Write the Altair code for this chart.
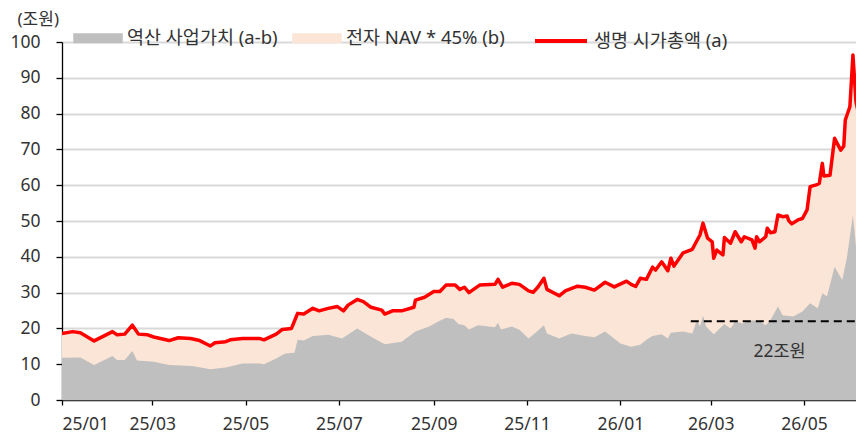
import altair as alt
import pandas as pd

FONT = "Noto Sans, Noto Sans CJK KR"
NUM_FONT = "Noto Sans"
FS = 17.5

NAME_GREY = "역산 사업가치 (a-b)"
NAME_PEACH = "전자 NAV * 45% (b)"
NAME_RED = "생명 시가총액 (a)"

# 생명 시가총액 (a), 조원
red_dates = [
    "2025-01-01", "2025-01-08", "2025-01-13", "2025-01-22", "2025-02-03", "2025-02-06",
    "2025-02-11", "2025-02-16", "2025-02-20", "2025-02-26", "2025-03-02", "2025-03-12",
    "2025-03-18", "2025-03-26", "2025-04-01", "2025-04-08", "2025-04-11", "2025-04-18",
    "2025-04-21", "2025-04-29", "2025-05-10", "2025-05-13", "2025-05-21", "2025-05-25",
    "2025-05-31", "2025-06-04", "2025-06-08", "2025-06-14", "2025-06-18", "2025-06-24",
    "2025-06-30", "2025-07-04", "2025-07-07", "2025-07-13", "2025-07-17", "2025-07-22",
    "2025-07-29", "2025-07-31", "2025-08-05", "2025-08-11", "2025-08-19", "2025-08-20",
    "2025-08-26", "2025-09-01", "2025-09-05", "2025-09-09", "2025-09-15", "2025-09-18",
    "2025-09-21", "2025-09-24", "2025-10-01", "2025-10-11", "2025-10-13", "2025-10-16",
    "2025-10-22", "2025-10-27", "2025-11-02", "2025-11-05", "2025-11-08", "2025-11-12",
    "2025-11-14", "2025-11-22", "2025-11-26", "2025-12-04", "2025-12-09", "2025-12-15",
    "2025-12-22", "2025-12-28", "2026-01-05", "2026-01-08", "2026-01-11", "2026-01-14",
    "2026-01-18", "2026-01-22", "2026-01-24", "2026-01-28", "2026-02-01", "2026-02-03",
    "2026-02-05", "2026-02-11", "2026-02-17", "2026-02-22", "2026-02-24", "2026-02-27",
    "2026-03-02", "2026-03-03", "2026-03-05", "2026-03-09", "2026-03-10", "2026-03-14",
    "2026-03-17", "2026-03-21", "2026-03-23", "2026-03-28", "2026-03-30", "2026-03-31",
    "2026-04-02", "2026-04-06", "2026-04-07", "2026-04-09", "2026-04-12", "2026-04-14",
    "2026-04-17", "2026-04-20", "2026-04-21", "2026-04-23", "2026-04-27", "2026-04-30",
    "2026-05-03", "2026-05-05", "2026-05-09", "2026-05-11", "2026-05-13", "2026-05-14",
    "2026-05-18", "2026-05-21", "2026-05-25", "2026-05-27", "2026-05-28", "2026-05-31",
    "2026-06-02", "2026-06-04", "2026-06-08",
]
red_vals = [
    18.6, 19.1, 18.8, 16.5, 19.1, 18.2,
    18.4, 20.9, 18.4, 18.2, 17.6, 16.6,
    17.4, 17.2, 16.6, 15.1, 16.0, 16.3,
    16.8, 17.2, 17.2, 16.8, 18.4, 19.7,
    20.0, 24.2, 24.0, 25.6, 24.9, 25.6,
    26.1, 24.9, 26.5, 28.1, 27.5, 25.9,
    25.1, 24.0, 24.9, 24.9, 25.9, 27.9,
    28.7, 30.3, 30.3, 32.1, 32.1, 30.9,
    31.5, 30.0, 32.1, 32.3, 33.7, 31.5,
    32.6, 32.3, 30.5, 30.1, 31.5, 34.0,
    30.9, 29.1, 30.5, 31.8, 31.5, 30.7,
    32.9, 31.6, 33.2, 32.3, 31.7, 34.0,
    33.7, 37.1, 36.3, 38.6, 36.1, 39.6,
    37.4, 41.1, 42.1, 46.1, 49.4, 45.2,
    44.2, 39.6, 41.9, 40.5, 45.4, 43.8,
    47.0, 44.2, 45.6, 44.7, 42.4, 45.6,
    44.2, 45.6, 48.0, 46.7, 47.0, 51.7,
    51.2, 51.4, 50.1, 49.2, 50.3, 50.7,
    53.1, 59.6, 60.1, 60.5, 66.1, 62.6,
    62.8, 73.1, 69.8, 70.9, 78.2, 81.9,
    96.4, 83.3, 75.4,
]

# 역산 사업가치 (a-b), 조원
grey_dates = [
    "2025-01-01", "2025-01-13", "2025-01-22", "2025-02-03", "2025-02-06", "2025-02-11",
    "2025-02-16", "2025-02-19", "2025-03-02", "2025-03-12", "2025-03-27", "2025-04-08",
    "2025-04-18", "2025-04-29", "2025-05-10", "2025-05-13", "2025-05-21", "2025-05-27",
    "2025-06-02", "2025-06-04", "2025-06-08", "2025-06-14", "2025-06-24", "2025-07-03",
    "2025-07-13", "2025-07-22", "2025-07-31", "2025-08-11", "2025-08-20", "2025-08-29",
    "2025-09-04", "2025-09-09", "2025-09-14", "2025-09-17", "2025-09-21", "2025-09-24",
    "2025-09-30", "2025-10-11", "2025-10-13", "2025-10-15", "2025-10-22", "2025-10-27",
    "2025-11-02", "2025-11-06", "2025-11-12", "2025-11-14", "2025-11-22", "2025-11-30",
    "2025-12-09", "2025-12-15", "2025-12-22", "2026-01-01", "2026-01-08", "2026-01-14",
    "2026-01-18", "2026-01-22", "2026-01-28", "2026-02-01", "2026-02-03", "2026-02-11",
    "2026-02-17", "2026-02-20", "2026-02-22", "2026-02-24", "2026-02-26", "2026-03-03",
    "2026-03-10", "2026-03-14", "2026-03-17", "2026-03-22", "2026-03-28", "2026-04-02",
    "2026-04-06", "2026-04-09", "2026-04-14", "2026-04-17", "2026-04-24", "2026-04-30",
    "2026-05-05", "2026-05-10", "2026-05-13", "2026-05-16", "2026-05-21", "2026-05-26",
    "2026-05-29", "2026-06-02", "2026-06-04", "2026-06-08",
]
grey_vals = [
    11.8, 11.9, 9.8, 12.3, 11.2, 11.2,
    13.7, 11.0, 10.7, 9.8, 9.5, 8.6,
    9.1, 10.2, 10.2, 10.0, 11.6, 13.0,
    13.2, 16.8, 16.6, 17.9, 18.2, 17.2,
    20.0, 17.7, 15.6, 16.3, 19.1, 20.5,
    21.9, 23.0, 22.6, 21.2, 20.9, 19.7,
    20.9, 20.3, 21.6, 19.7, 20.5, 19.6,
    17.2, 18.6, 20.9, 18.6, 17.2, 18.6,
    17.9, 17.5, 19.1, 15.8, 14.9, 15.4,
    16.8, 17.9, 18.4, 17.2, 18.8, 19.1,
    18.6, 22.3, 20.5, 23.5, 20.5, 18.4,
    21.2, 20.0, 21.9, 21.4, 22.3, 21.9,
    20.9, 22.3, 26.1, 23.7, 23.3, 24.7,
    27.0, 25.6, 29.8, 28.9, 37.2, 33.5,
    39.6, 51.7, 42.8, 39.6,
]

# 22조원 reference line and its label
ref_value = 22
ref_start = "2026-02-16"
ref_end = "2026-06-08"
ref_label = "22조원"
ref_label_date = "2026-04-15"
ref_label_value = 13.4

x_ticks = ["2025-01", "2025-03", "2025-05", "2025-07", "2025-09", "2025-11",
           "2026-01", "2026-03", "2026-05"]
y_ticks = list(range(0, 101, 10))

red_df = pd.DataFrame({"d": red_dates, "v": red_vals, "s": NAME_PEACH, "s2": NAME_RED})
grey_df = pd.DataFrame({"d": grey_dates, "v": grey_vals, "s": NAME_GREY})
ref_df = pd.DataFrame({"d": [ref_start], "d2": [ref_end], "v": [ref_value]})
lab_df = pd.DataFrame({"d": [ref_label_date], "v": [ref_label_value], "t": [ref_label]})


def dt(s):
    y, m = s.split("-")[:2]
    return alt.DateTime(year=int(y), month=int(m), date=1, utc=True)


# visible window: the page is 864 px wide, so the plot stops at about 4 June 2026
x_scale = alt.Scale(type="utc", domain=[alt.DateTime(year=2025, month=1, date=1, utc=True),
                                         alt.DateTime(year=2026, month=6, date=4, utc=True)])
y_scale = alt.Scale(domain=[0, 100], nice=False)

x_axis = alt.Axis(values=[dt(t) for t in x_ticks],
                  labelExpr="utcFormat(datum.value, '%y/%m')",
                  title=None, grid=False, labelPadding=10, tickSize=5,
                  labelFont=NUM_FONT, labelFontSize=FS, labelOverlap=False)
y_axis = alt.Axis(values=y_ticks, grid=True, title="(조원)", titleAngle=0,
                  titleAlign="left", titleBaseline="middle", titleX=-45, titleY=-23,
                  titleFontWeight="normal", titleFontSize=17, titleColor="#333333",
                  titleFont=FONT, tickSize=6, labelPadding=16, labelFont=NUM_FONT,
                  labelFontSize=FS, labelOverlap=False)

x_enc = alt.X("d:T", scale=x_scale, axis=x_axis)
y_enc = alt.Y("v:Q", scale=y_scale, axis=y_axis)

fill_scale = alt.Scale(domain=[NAME_GREY, NAME_PEACH], range=["#BFBFBF", "#FBE5D6"])

peach = alt.Chart(red_df).mark_area(interpolate="linear", clip=True).encode(
    x=x_enc, y=y_enc,
    fill=alt.Fill("s:N", scale=fill_scale,
                  legend=alt.Legend(title=None, orient="none", direction="horizontal",
                                    legendX=11, legendY=-29, symbolType="M-1,-0.2H1V0.2H-1Z",
                                    symbolSize=2450, symbolStrokeWidth=0, symbolOpacity=1,
                                    labelFont=FONT, labelFontSize=18.5, labelColor="#333333",
                                    labelOffset=4, columnPadding=14, padding=0,
                                    labelLimit=400)),
)

grey = alt.Chart(grey_df).mark_area(interpolate="linear", clip=True).encode(
    x=x_enc, y=y_enc,
    fill=alt.Fill("s:N", scale=fill_scale),
)

line = alt.Chart(red_df).mark_line(strokeWidth=3.5, strokeJoin="round", clip=True).encode(
    x=x_enc, y=y_enc,
    stroke=alt.Stroke("s2:N", scale=alt.Scale(domain=[NAME_RED], range=["#FF0000"]),
                      legend=alt.Legend(title=None, orient="none", direction="horizontal",
                                        legendX=471, legendY=-29, symbolType="stroke",
                                        symbolSize=2704, symbolStrokeWidth=4,
                                        labelFont=FONT, labelFontSize=18.5, labelColor="#333333",
                                        labelOffset=5, padding=0, labelLimit=400)),
)

rule = alt.Chart(ref_df).mark_rule(color="black", strokeWidth=1.8, strokeDash=[8, 5],
                                   clip=True).encode(
    x=x_enc, x2="d2:T", y=y_enc,
)

label = alt.Chart(lab_df).mark_text(font=FONT, fontSize=17.5, color="#333333",
                                    align="center", baseline="middle").encode(
    x=x_enc, y=y_enc, text="t:N",
)

chart = alt.layer(peach, grey, line, rule, label).properties(
    width=794, height=358,
    autosize=alt.AutoSizeParams(type="none"),
    padding={"left": 54, "top": 34, "right": 0, "bottom": 35},
).configure_view(stroke=None).configure_axis(
    labelColor="#333333", domainColor="#000000", domainWidth=1.3,
    tickColor="#000000", tickWidth=1.3, gridColor="#D9D9D9", gridWidth=2,
).configure_axisX(domainColor="#404040")

chart.save("out.html", embed_options={"renderer": "svg", "actions": False})
